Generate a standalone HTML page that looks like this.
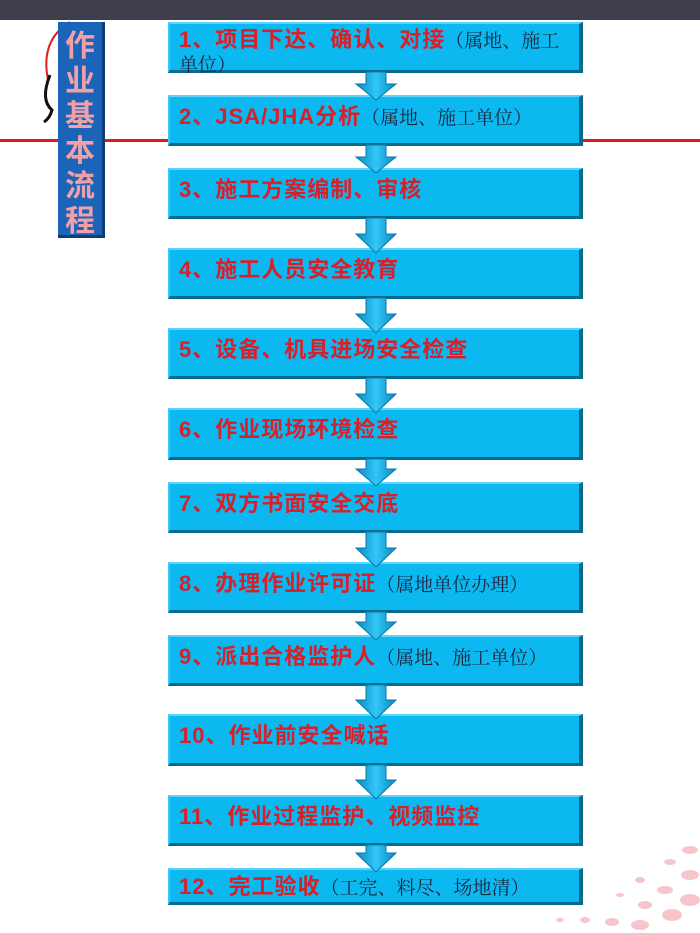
<!DOCTYPE html>
<html><head><meta charset="utf-8"><style>
body{margin:0;width:700px;height:933px;position:relative;background:#fff;overflow:hidden;font-family:"Liberation Sans","Noto Sans CJK SC",sans-serif}
.top{position:absolute;left:0;top:0;width:700px;height:20px;background:#3e3e4c}
.rl{position:absolute;top:139px;height:3px;background:#e01818}
.box{position:absolute;left:168px;width:415px;height:46px;background:#0cb8f0;border-top:2px solid #5fd4f8;border-left:2px solid #3cc6f4;border-right:4px solid #0a6a8e;border-bottom:3px solid #0a6a8e;box-sizing:border-box;padding:7px 0 0 9px;font-weight:bold;color:#d8202a;font-size:22px;line-height:26px;white-space:nowrap;letter-spacing:1px}
.box span{font-weight:normal;color:#1a2840;font-family:"Liberation Serif","Noto Serif CJK SC",serif;font-size:19px;letter-spacing:0}
.side{position:absolute;left:58px;top:22px;width:47px;height:216px;background:#1c64b8;border-right:3px solid #0d3e78;border-bottom:3px solid #0d3e78;box-sizing:border-box;color:#f0a0a8;font-weight:bold;font-size:30px;line-height:35px;text-align:center;padding-top:4px;font-family:"Noto Sans CJK SC",sans-serif}
</style></head><body>
<div class="top"></div>
<div class="rl" style="left:0;width:168px"></div>
<div class="rl" style="left:583px;width:117px"></div>
<svg style="position:absolute;left:0;top:0" width="700" height="933">
<path d="M70 22 Q40 40 48 80" stroke="#d82020" stroke-width="2" fill="none"/>
<path d="M50 75 Q40 100 52 110 Q50 118 44 122" stroke="#111" stroke-width="3" fill="none"/>
<g fill="#f5b8c0" opacity="0.8">
<ellipse cx="690" cy="850" rx="8" ry="4"/><ellipse cx="670" cy="862" rx="6" ry="3"/><ellipse cx="690" cy="875" rx="9" ry="5"/>
<ellipse cx="640" cy="880" rx="5" ry="3"/><ellipse cx="665" cy="890" rx="8" ry="4"/><ellipse cx="690" cy="900" rx="10" ry="6"/>
<ellipse cx="620" cy="895" rx="4" ry="2"/><ellipse cx="645" cy="905" rx="7" ry="4"/><ellipse cx="672" cy="915" rx="10" ry="6"/>
<ellipse cx="560" cy="920" rx="4" ry="2"/><ellipse cx="585" cy="920" rx="5" ry="3"/><ellipse cx="612" cy="922" rx="7" ry="4"/><ellipse cx="640" cy="925" rx="9" ry="5"/>
</g>
</svg>
<div class="side">作<br>业<br>基<br>本<br>流<br>程</div>

<div class="box" style="top:22px;height:51px;line-height:22px;padding-top:5px">1、项目下达、确认、对接<span>（属地、施工<br>单位）</span></div>
<div class="box" style="top:95px;height:51px">2、JSA/JHA分析<span>（属地、施工单位）</span></div>
<div class="box" style="top:168px;height:51px">3、施工方案编制、审核</div>
<div class="box" style="top:248px;height:51px">4、施工人员安全教育</div>
<div class="box" style="top:328px;height:51px">5、设备、机具进场安全检查</div>
<div class="box" style="top:408px;height:52px">6、作业现场环境检查</div>
<div class="box" style="top:482px;height:51px">7、双方书面安全交底</div>
<div class="box" style="top:562px;height:51px">8、办理作业许可证<span>（属地单位办理）</span></div>
<div class="box" style="top:635px;height:51px">9、派出合格监护人<span>（属地、施工单位）</span></div>
<div class="box" style="top:714px;height:52px">10、作业前安全喊话</div>
<div class="box" style="top:795px;height:51px">11、作业过程监护、视频监控</div>
<div class="box" style="top:868px;height:37px;padding-top:4px">12、完工验收<span>（工完、料尽、场地清）</span></div>

<svg style="position:absolute;left:0;top:0" width="700" height="933">
<defs><linearGradient id="g" x1="0" x2="1"><stop offset="0" stop-color="#0a88c0"/><stop offset=".5" stop-color="#30c8f8"/><stop offset="1" stop-color="#0a88c0"/></linearGradient></defs>
<g fill="url(#g)" stroke="#0a78a8" stroke-width="1">
<path d="M366 72 h20 v12 h10 l-20 16 l-20 -16 h10z"/>
<path d="M366 145 h20 v12 h10 l-20 16 l-20 -16 h10z"/>
<path d="M366 218 h20 v16 h10 l-20 19 l-20 -19 h10z"/>
<path d="M366 298 h20 v16 h10 l-20 19 l-20 -19 h10z"/>
<path d="M366 378 h20 v16 h10 l-20 19 l-20 -19 h10z"/>
<path d="M366 459 h20 v10 h10 l-20 17 l-20 -17 h10z"/>
<path d="M366 532 h20 v16 h10 l-20 19 l-20 -19 h10z"/>
<path d="M366 612 h20 v10 h10 l-20 18 l-20 -18 h10z"/>
<path d="M366 685 h20 v15 h10 l-20 19 l-20 -19 h10z"/>
<path d="M366 765 h20 v15 h10 l-20 19 l-20 -19 h10z"/>
<path d="M366 845 h20 v8 h10 l-20 19 l-20 -19 h10z"/>
</g>
</svg>
</body></html>
